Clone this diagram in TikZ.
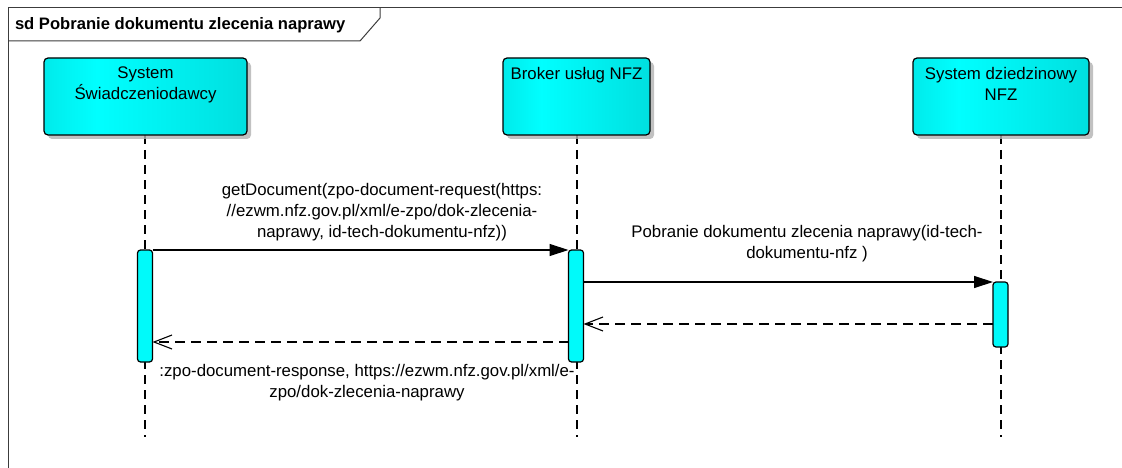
\documentclass[tikz,border=0pt]{standalone}
\usepackage{fontspec}
\setmainfont{Liberation Sans}
\usetikzlibrary{arrows.meta,shadows}
\definecolor{edgeA}{RGB}{0,196,196}
\definecolor{midA}{RGB}{0,255,255}
\definecolor{edgeB}{RGB}{0,202,202}
\definecolor{actfill}{RGB}{0,250,250}
\definecolor{framecol}{RGB}{60,60,60}
\pgfdeclarehorizontalshading{headshade}{100bp}{color(0bp)=(edgeA); color(38bp)=(midA); color(100bp)=(edgeB)}
\begin{document}
\begin{tikzpicture}[x=1pt,y=-1pt,
  every node/.style={font=\fontsize{16.8}{21}\selectfont, inner sep=0pt, outer sep=0pt},
  headbox/.style={draw=black, line width=1.2pt, rounded corners=4pt, shading=headshade,
    drop shadow={shadow xshift=4pt, shadow yshift=-4pt, fill=black!30, opacity=0.8}},
  headtxt/.style={align=center, anchor=north},
  actbar/.style={draw=black, line width=1.2pt, fill=actfill, rounded corners=3pt, minimum width=15pt},
  lifeline/.style={draw=black, line width=1.2pt, dash pattern=on 9pt off 6pt},
  msg/.style={draw=black, line width=1.2pt, -{Triangle[length=19pt,width=12pt]}},
  reply/.style={draw=black, line width=1.1pt, dash pattern=on 10pt off 6pt, -{Straight Barb[length=18pt,width=14pt,line width=1.1pt]}},
  lbl/.style={align=center},
  framel/.style={draw=framecol, line width=1pt}]
\useasboundingbox (0,0) rectangle (1122,468);
% frame
\draw[framel] (1122,8) -- (8,8) -- (8,468);
\draw[framel] (8,41) -- (360,41) -- (380,18) -- (380,8);
\node[anchor=west, font=\bfseries\fontsize{16.6}{20}\selectfont] (title) at (15,25) {sd Pobranie dokumentu zlecenia naprawy};
% lifeline ends
\coordinate (e1) at (145,437);
\coordinate (e2) at (577,437);
\coordinate (e3) at (1001,437);
% lifelines (drawn first)
\draw[lifeline] (145,135) -- (e1);
\draw[lifeline] (577,135) -- (e2);
\draw[lifeline] (1001,135) -- (e3);
% heads
\node[headbox, minimum width=203pt, minimum height=77pt] (h1) at (145.5,96.5) {};
\node[headtxt] (t1) at ([yshift=-9pt]h1.north) {System\\Świadczeniodawcy};
\node[headbox, minimum width=147pt, minimum height=77pt] (h2) at (576.5,96.5) {};
\node[headtxt] (t2) at ([yshift=-9pt]h2.north) {Broker usług NFZ};
\node[headbox, minimum width=176pt, minimum height=77pt] (h3) at (1001,96.5) {};
\node[headtxt] (t3) at ([yshift=-9pt]h3.north) {System dziedzinowy\\NFZ};
% activation bars
\node[actbar, minimum height=112pt] (a1) at (145,306) {};
\node[actbar, minimum height=112pt] (a2) at (576,306) {};
\node[actbar, minimum height=65pt] (a3) at (1000.5,314.5) {};
% message y levels
\coordinate (m2) at (0,282);
\coordinate (m3) at (0,324);
\coordinate (m4) at (0,342);
% messages
\draw[msg] (a1.north east) -- (a2.north west);
\draw[msg] (a2.east |- m2) -- (a3.north west);
\draw[reply] (a3.west |- m3) -- (a2.east |- m3);
\draw[reply] (a2.west |- m4) -- (a1.east |- m4);
% labels
\node[lbl] (l1) at (382,212) {getDocument(zpo-document-request(https:\\//ezwm.nfz.gov.pl/xml/e-zpo/dok-zlecenia-\\naprawy, id-tech-dokumentu-nfz))};
\node[lbl] (l2) at (807,244) {Pobranie dokumentu zlecenia naprawy(id-tech-\\dokumentu-nfz )};
\node[lbl] (l4) at (367,383) {:zpo-document-response, https://ezwm.nfz.gov.pl/xml/e-\\zpo/dok-zlecenia-naprawy};
\end{tikzpicture}
\end{document}
